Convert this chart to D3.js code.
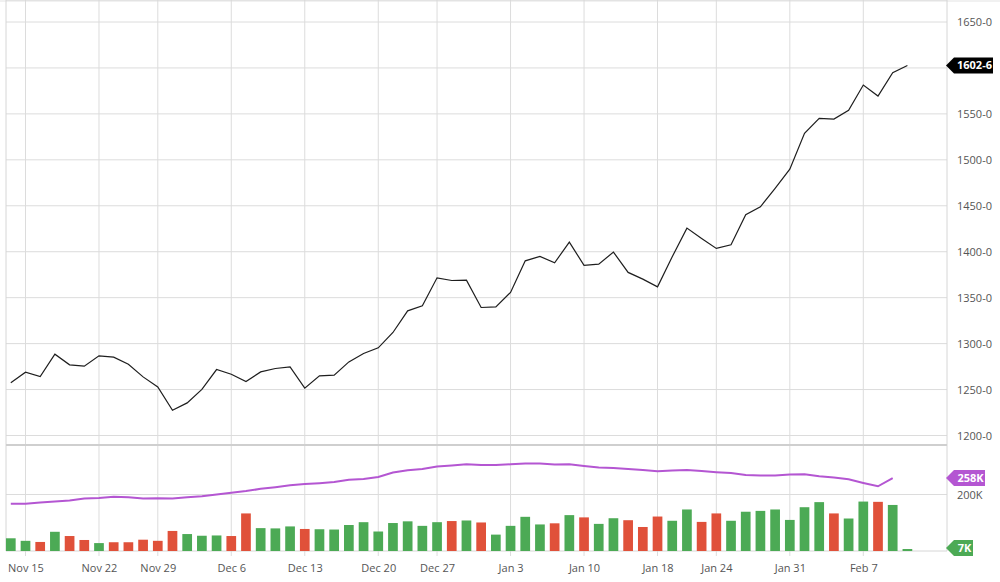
<html lang="en">
<head>
<meta charset="UTF-8">
<title>Price and volume</title>
<script src="https://d3js.org/d3.v7.min.js"></script>
<style>
  body { margin: 0; background: #fff; }
  text { font-family: "Open Sans", sans-serif; }
  .axis text { fill: #555; font-size: 11px; }
  .axis path { display: none; }
  .grid line { stroke: #dcdcdc; stroke-width: 1; }
</style>
</head>
<body>
<svg width="1000" height="582"></svg>
<script>
// trading days, Nov 12 - Feb 10
var dates = ["Nov 12","Nov 15","Nov 16","Nov 17","Nov 18","Nov 19","Nov 22","Nov 23","Nov 24","Nov 26",
  "Nov 29","Nov 30","Dec 1","Dec 2","Dec 3","Dec 6","Dec 7","Dec 8","Dec 9","Dec 10",
  "Dec 13","Dec 14","Dec 15","Dec 16","Dec 17","Dec 20","Dec 21","Dec 22","Dec 23","Dec 27",
  "Dec 28","Dec 29","Dec 30","Dec 31","Jan 3","Jan 4","Jan 5","Jan 6","Jan 7","Jan 10",
  "Jan 11","Jan 12","Jan 13","Jan 14","Jan 18","Jan 19","Jan 20","Jan 21","Jan 24","Jan 25",
  "Jan 26","Jan 27","Jan 28","Jan 31","Feb 1","Feb 2","Feb 3","Feb 4","Feb 7","Feb 8",
  "Feb 9","Feb 10"];

var close = [1257.3,1268.9,1264.2,1288.5,1276.9,1275.4,1286.7,1285.2,1277.6,1263.8,
  1252.9,1227.5,1235.5,1250.1,1271.8,1266.7,1258.8,1269.2,1272.9,1274.7,
  1251.5,1264.9,1265.6,1280.1,1289.2,1295.4,1312.1,1335.7,1341.1,1371.6,
  1368.7,1369.1,1339.3,1340.0,1355.7,1390.1,1394.9,1387.9,1410.5,1385.1,
  1386.5,1399.6,1377.5,1370.2,1361.8,1394.5,1425.7,1414.5,1403.6,1407.5,
  1440.2,1448.9,1469.0,1489.9,1528.8,1545.1,1544.4,1553.9,1581.4,1569.4,
  1594.8,1602.75];

// volume in thousands
var volume = [45,36,32,68,53,39,28,31,31,40,
  36,71,60,54,55,53,133,81,80,87,
  78,77,76,92,102,69,99,105,89,102,
  106,108,101,58,89,121,94,98,127,119,
  96,116,109,85,122,107,147,103,133,107,
  139,142,147,110,155,173,133,115,175,174,
  163,7];

// volume moving average (thousands), ends one day before volume
var volumeAvg = [167,167,172,175,179,186,188,192,190,186,
  187,186,190,194,200,206,212,220,226,233,
  237,240,244,252,255,262,278,286,290,299,
  303,307,304,304,307,310,310,306,307,301,
  296,294,290,287,282,285,287,283,279,276,
  269,267,267,271,272,265,260,254,241,229,
  258];

var dateTicks = ["Nov 15","Nov 22","Nov 29","Dec 6","Dec 13","Dec 20","Dec 27","Jan 3","Jan 10","Jan 18","Jan 24","Jan 31","Feb 7"];
var priceTicks = [1200,1250,1300,1350,1400,1450,1500,1550,1600,1650];
var volumeTicks = [200];

var svg = d3.select("svg"),
    left = 6, right = 947,
    top = 6, mainBottom = 445, volBottom = 551;

var x = d3.scalePoint().domain(dates).range([10.8, 907.4]);
var y = d3.scaleLinear().domain([1200, 1650]).range([435.5, 22]);
var yv = d3.scaleLinear().domain([0, 200]).range([volBottom, 494.5]);
var barW = x.step() * 0.66;

function fmtPrice(v) {
    var whole = Math.floor(v);
    return whole + "-" + Math.round((v - whole) * 8);
}

var lastClose = close[close.length - 1],
    lastVol = volume[volume.length - 1],
    lastAvg = volumeAvg[volumeAvg.length - 1];

// page top line
svg.append("line").attr("x1", 0).attr("x2", 1000).attr("y1", 1).attr("y2", 1)
    .attr("stroke", "#e3e3e3");

// gridlines
svg.append("g").attr("class", "grid")
    .selectAll("line").data(priceTicks).enter().append("line")
    .attr("x1", left).attr("x2", right)
    .attr("y1", function (d) { return y(d); }).attr("y2", function (d) { return y(d); });

svg.append("g").attr("class", "grid")
    .selectAll("line").data(volumeTicks).enter().append("line")
    .attr("x1", left).attr("x2", right)
    .attr("y1", function (d) { return yv(d); }).attr("y2", function (d) { return yv(d); });

svg.append("g").attr("class", "grid")
    .selectAll("line").data(dateTicks).enter().append("line")
    .attr("x1", function (d) { return x(d); }).attr("x2", function (d) { return x(d); })
    .attr("y1", top).attr("y2", volBottom + 5);

// frame
var frame = svg.append("g").attr("stroke", "#d6d6d6").attr("fill", "none");
frame.append("line").attr("x1", left).attr("x2", right).attr("y1", top).attr("y2", top);
frame.append("line").attr("x1", left).attr("x2", left).attr("y1", top).attr("y2", volBottom);
frame.append("line").attr("x1", right).attr("x2", right).attr("y1", top).attr("y2", volBottom);
frame.append("line").attr("x1", left).attr("x2", right).attr("y1", volBottom).attr("y2", volBottom);
frame.append("line").attr("x1", left).attr("x2", right).attr("y1", mainBottom).attr("y2", mainBottom)
    .attr("stroke", "#cfcfcf").attr("stroke-width", 2);

// volume bars, coloured by close change
svg.append("g").selectAll("rect").data(volume).enter().append("rect")
    .attr("x", function (d, i) { return x(dates[i]) - barW / 2; })
    .attr("y", function (d) { return yv(d); })
    .attr("width", barW)
    .attr("height", function (d) { return volBottom - yv(d); })
    .attr("fill", function (d, i) {
        return (i == 0 || close[i] >= close[i - 1]) ? "#4caa55" : "#e0513a";
    });

// volume average line
svg.append("path")
    .datum(volumeAvg)
    .attr("fill", "none")
    .attr("stroke", "#b456d2")
    .attr("stroke-width", 2)
    .attr("d", d3.line()
        .x(function (d, i) { return x(dates[i]); })
        .y(function (d) { return yv(d); }));

// price line
svg.append("path")
    .datum(close)
    .attr("fill", "none")
    .attr("stroke", "#1e1e1e")
    .attr("stroke-width", 1.2)
    .attr("d", d3.line()
        .x(function (d, i) { return x(dates[i]); })
        .y(function (d) { return y(d); }));

// axes; tick labels hidden behind the last-price tag are dropped
svg.append("g").attr("class", "axis")
    .attr("transform", "translate(" + right + ",0)")
    .call(d3.axisRight(y).tickValues(priceTicks).tickSize(0).tickPadding(10).tickFormat(fmtPrice))
    .selectAll(".tick")
    .filter(function (d) { return Math.abs(y(d) - y(lastClose)) < 12; })
    .remove();

svg.append("g").attr("class", "axis")
    .attr("transform", "translate(" + right + ",0)")
    .call(d3.axisRight(yv).tickValues(volumeTicks).tickSize(0).tickPadding(10)
        .tickFormat(function (d) { return d + "K"; }));

svg.append("g").attr("class", "axis")
    .attr("transform", "translate(0," + volBottom + ")")
    .call(d3.axisBottom(x).tickValues(dateTicks).tickSize(0).tickPadding(13));

// value tags on the right
function tag(yPos, label, color, w) {
    var h = 16, tip = 8;
    var g = svg.append("g").attr("transform", "translate(" + (right - 1) + "," + yPos + ")");
    g.append("path")
        .attr("d", "M0,0 L" + tip + "," + (-h / 2) + " L" + w + "," + (-h / 2) +
            " L" + w + "," + (h / 2) + " L" + tip + "," + (h / 2) + "Z")
        .attr("fill", color);
    g.append("text")
        .attr("x", (tip + w) / 2 + 1)
        .attr("y", 0)
        .attr("dy", "0.35em")
        .attr("text-anchor", "middle")
        .attr("fill", "#fff")
        .attr("font-size", "11px")
        .attr("font-weight", "bold")
        .text(label);
}

tag(y(lastClose), fmtPrice(lastClose), "#000", 47);
tag(yv(lastAvg), lastAvg + "K", "#b456d2", 39);
tag(yv(lastVol) - 1, lastVol + "K", "#4caa55", 27);
</script>
</body>
</html>
